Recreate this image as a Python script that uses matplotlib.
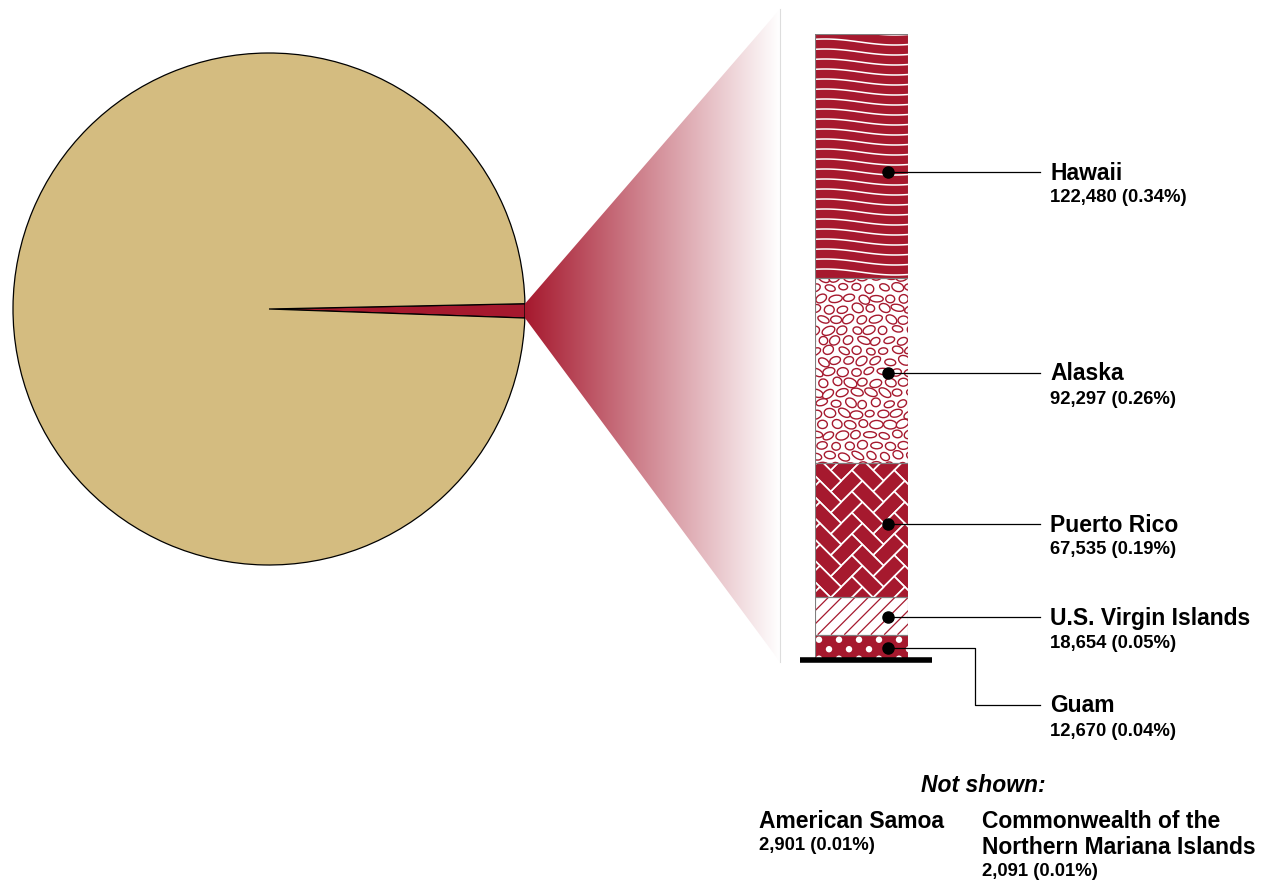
import numpy as np
import matplotlib
matplotlib.use("Agg")
import matplotlib.pyplot as plt
from matplotlib.patches import Polygon, Ellipse, Circle
from matplotlib.collections import LineCollection, PatchCollection

plt.rcParams["font.family"] = ["Liberation Sans", "DejaVu Sans"]

RED = "#A6192E"
TAN = "#D4BC80"
FIG_W, FIG_H = 1267, 881

# --- data -------------------------------------------------------------
mainland_value = 35_450_000  # rest of the population (pie body)
shown_names = ["Hawaii", "Alaska", "Puerto Rico", "U.S. Virgin Islands", "Guam"]
shown_values = [122480, 92297, 67535, 18654, 12670]
shown_pct = ["0.34%", "0.26%", "0.19%", "0.05%", "0.04%"]
hidden_names = ["American Samoa", "Commonwealth of the\nNorthern Mariana Islands"]
hidden_values = [2901, 2091]
hidden_pct = ["0.01%", "0.01%"]

# --- layout (pixels, y down) ------------------------------------------
PIE_C = (269, 309)
PIE_R = 256
BAR_L, BAR_R, BAR_T, BAR_B = 815, 908, 34, 660
DOT_X = 888
DOT_Y = [172, 373, 524, 617, 648]
LINE_END = 1040
LABEL_X = 1050
NAME_FS = 16.5
VAL_FS = 13.3


def fmt(v, p):
    return f"{v:,} ({p})"


def hashfrac(i, j, s=0.0):
    return (np.sin(i * 12.9898 + j * 78.233 + s) * 43758.5453) % 1.0


fig = plt.figure(figsize=(FIG_W / 100, FIG_H / 100), dpi=100)
ax = fig.add_axes([0, 0, 1, 1])
ax.set_zorder(2)
ax.patch.set_visible(False)

# pie: territories vs rest; y axis is flipped, so angles run clockwise on screen
terr_total = sum(shown_values) + sum(hidden_values)
share = terr_total / (terr_total + mainland_value) * 360
ax.pie([terr_total, mainland_value], colors=[RED, TAN], startangle=-share * 0.37,
       center=PIE_C, radius=PIE_R, frame=True,
       wedgeprops=dict(edgecolor="black", linewidth=0.9))
ax.set_xlim(0, FIG_W)
ax.set_ylim(FIG_H, 0)
ax.axis("off")

# gradient funnel from the wedge to the bar
tip_top = PIE_C[1] - PIE_R * np.sin(np.radians(share * 0.37))
tip_bot = PIE_C[1] + PIE_R * np.sin(np.radians(share * 0.63))
tip_x = PIE_C[0] + PIE_R
t = np.linspace(0, 1, 300)
red_rgb = np.array(matplotlib.colors.to_rgb(RED))
grad = np.ones((1, t.size, 4))
grad[0, :, :3] = red_rgb[None, :] * (1 - t[:, None]) + t[:, None]
img = ax.imshow(grad, extent=(tip_x, 780, 662, 9), aspect="auto",
                interpolation="bilinear", zorder=1)
funnel = Polygon([(tip_x, tip_top), (780, 9), (780, 662), (tip_x, tip_bot)],
                 closed=True, transform=ax.transData, facecolor="none", edgecolor="none")
ax.add_patch(funnel)
img.set_clip_path(funnel)
ax.plot([780, 780], [9, 662], color="#dddddd", lw=0.8)
ax.set_xlim(0, FIG_W)
ax.set_ylim(FIG_H, 0)

# stacked bar in its own axes (value scale)
bx = fig.add_axes([BAR_L / FIG_W, (FIG_H - BAR_B) / FIG_H,
                   (BAR_R - BAR_L) / FIG_W, (BAR_B - BAR_T) / FIG_H])
bx.set_zorder(1)
bx.axis("off")
total_shown = sum(shown_values)
bottoms = np.concatenate([[0], np.cumsum(shown_values[::-1])[:-1]])[::-1]
bg = [RED, "white", RED, "white", RED]
bars = bx.bar(0.5, shown_values, bottom=bottoms, width=1.0, color=bg,
              edgecolor="none", zorder=1)
bx.set_xlim(0, 1)
bx.set_ylim(0, total_shown)

inv = ax.transData.inverted()


def px_box(patch):
    bb = patch.get_window_extent()
    (x0, yb), (x1, yt) = inv.transform([(bb.x0, bb.y0), (bb.x1, bb.y1)])
    return x0, x1, min(yb, yt), max(yb, yt)


def add_clipped(coll, patch):
    coll.set_transform(ax.transData)
    coll.set_zorder(2)
    bx.add_collection(coll, autolim=False)
    coll.set_clip_path(patch)  # after add_collection, which would reset it


# Hawaii: white waves
p = bars[0]
x0, x1, y0, y1 = px_box(p)
xs = np.linspace(x0 - 2, x1 + 2, 80)
segs = []
for yy in np.arange(y0 - 12, y1 + 12, 10.0):
    ys = yy - 3.0 * np.cos(2 * np.pi * (xs - (x0 + 10)) / 140)
    segs.append(np.column_stack([xs, ys]))
add_clipped(LineCollection(segs, colors="white", linewidths=1.1), p)

# Alaska: pebbles
p = bars[1]
x0, x1, y0, y1 = px_box(p)
ells = []
for j, yy in enumerate(np.arange(y0 - 1, y1 + 8, 10.5)):
    for i, xx in enumerate(np.arange(x0 - 6 + (j % 2) * 7, x1 + 8, 13.5)):
        f1, f2, f3, f4 = (hashfrac(i, j, s) for s in (0.0, 1.3, 2.7, 4.1))
        ells.append(Ellipse((xx + (f1 - 0.5) * 3, yy + (f2 - 0.5) * 2.5),
                            8.5 + 5 * f3, 6 + 3 * f4, angle=-35 + 70 * f1))
add_clipped(PatchCollection(ells, facecolor="white", edgecolor=RED, linewidths=1.0), p)

# Puerto Rico: herringbone
p = bars[2]
x0, x1, y0, y1 = px_box(p)
Wb = 15.0
rot = np.array([[np.cos(np.pi / 4), -np.sin(np.pi / 4)],
                [np.sin(np.pi / 4), np.cos(np.pi / 4)]])
bricks = []
for k in range(-25, 25):
    for n in range(-8, 8):
        ox = k + 4 * n
        for rect in ([(ox, k), (ox + 2, k), (ox + 2, k + 1), (ox, k + 1)],
                     [(ox, k + 1), (ox + 1, k + 1), (ox + 1, k + 3), (ox, k + 3)]):
            pts = (np.array(rect) * Wb) @ rot.T + [x0 + 5, y0 - 3]
            if (pts[:, 0].max() > x0 - 5 and pts[:, 0].min() < x1 + 5
                    and pts[:, 1].max() > y0 - 5 and pts[:, 1].min() < y1 + 5):
                bricks.append(Polygon(pts, closed=True))
add_clipped(PatchCollection(bricks, facecolor=RED, edgecolor="white", linewidths=1.2), p)

# U.S. Virgin Islands: diagonal lines
p = bars[3]
x0, x1, y0, y1 = px_box(p)
h = y1 - y0
segs = [[(c, y1), (c + h, y0)] for c in np.arange(x0 - h, x1 + 13, 13.3)]
add_clipped(LineCollection(segs, colors=RED, linewidths=0.9), p)

# Guam: dots
p = bars[4]
x0, x1, y0, y1 = px_box(p)
dots = []
for j, yy in enumerate(np.arange(y0 + 5, y1 + 6, 9.5)):
    for xx in np.arange(x0 + 4 + (j % 2) * 10, x1 + 6, 20):
        dots.append(Circle((xx, yy), 3.2))
add_clipped(PatchCollection(dots, facecolor="white", edgecolor="none"), p)

# bar outlines
bx.bar(0.5, shown_values, bottom=bottoms, width=1.0, color="none",
       edgecolor="#7f7f7f", linewidth=0.8, zorder=3)

# baseline
ax.plot([800, 932], [660, 660], color="black", lw=4, solid_capstyle="butt")

# leader lines, dots and labels
for i, (name, val, pct) in enumerate(zip(shown_names, shown_values, shown_pct)):
    dy = DOT_Y[i]
    if i == len(shown_names) - 1:
        ly = 705
        ax.plot([DOT_X, 975, 975, LINE_END], [dy, dy, ly, ly], color="black", lw=0.9)
    else:
        ly = dy
        ax.plot([DOT_X, LINE_END], [dy, dy], color="black", lw=0.9)
    ax.plot(DOT_X, dy, "o", color="black", ms=8)
    ax.text(LABEL_X, ly + 1, name, fontsize=NAME_FS, fontweight="bold",
            va="center", ha="left")
    ax.text(LABEL_X, ly + 26, fmt(val, pct), fontsize=VAL_FS, fontweight="bold",
            va="center", ha="left")

# not shown
ax.text(983, 785, "Not shown:", fontsize=NAME_FS, fontweight="bold", style="italic",
        ha="center", va="center")
hx = [759, 982]
for x, name, val, pct in zip(hx, hidden_names, hidden_values, hidden_pct):
    lines = name.count("\n") + 1
    ax.text(x, 810, name, fontsize=NAME_FS, fontweight="bold", ha="left", va="top",
            linespacing=1.15)
    ax.text(x, 821 + 25 * lines, fmt(val, pct), fontsize=VAL_FS, fontweight="bold",
            ha="left", va="center")

fig.savefig("out.png", dpi=100)
